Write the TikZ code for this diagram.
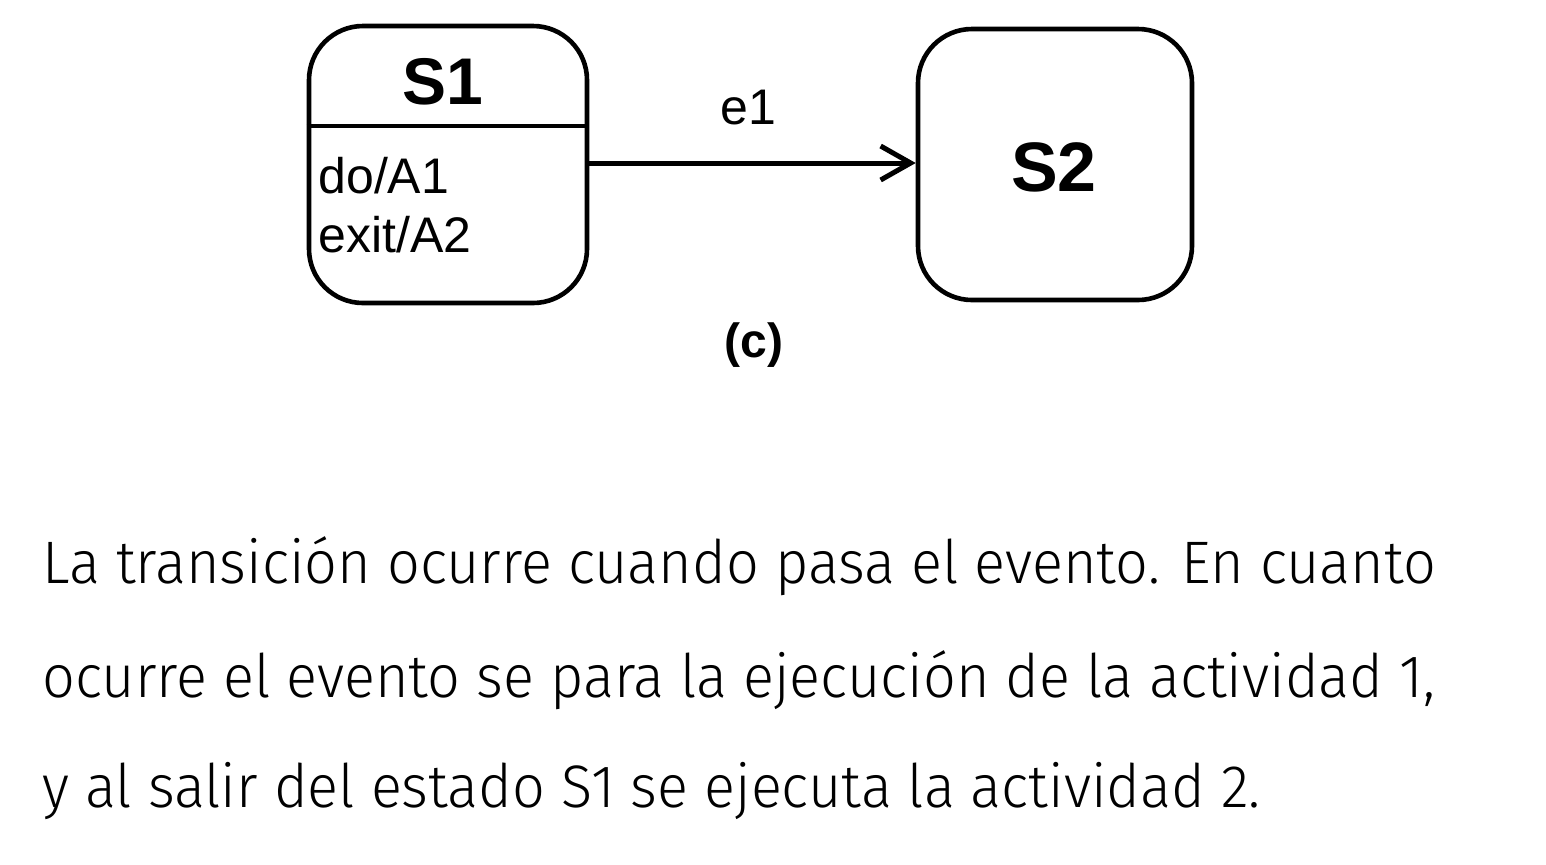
\documentclass[tikz,border=0pt]{standalone}
\usepackage{fontspec}
\setmainfont{Liberation Sans}
\newfontfamily\bodyfont[FakeStretch=0.96]{Fira Sans Light}
\usetikzlibrary{arrows.meta}

\tikzset{
  statebox/.style={draw, line width=2.3pt, rounded corners=27pt, inner sep=0pt},
  diagtext/.style={inner sep=0pt, font=\fontsize{25pt}{29pt}\selectfont},
  statename/.style={inner sep=0pt, font=\bfseries\fontsize{#1}{#1}\selectfont},
  bodyline/.style={inner sep=0pt, anchor=base west, font=\bodyfont\fontsize{30pt}{36pt}\selectfont},
  transition/.style={line width=2.5pt, -{Straight Barb[length=15pt, width=17pt, line width=2.5pt]}}
}

\begin{document}
\begin{tikzpicture}[x=0.5pt, y=-0.5pt]
  \useasboundingbox (0,0) rectangle (1546,864);

  % states
  \node[statebox, minimum width=139pt, minimum height=138.5pt] (s1) at (448,164.5) {};
  \node[statebox, minimum width=137pt, minimum height=135.5pt] (s2) at (1055,164.5) {};

  % compartment separator of S1
  \coordinate (sep) at (448,126);
  \draw[line width=2.3pt] (s1.west |- sep) -- (s1.east |- sep);

  % state contents
  \node[statename=33pt] (s1name) at (443,82) {S1};
  \node[diagtext, anchor=base west] (s1do) at (318,193) {do/A1};
  \node[diagtext, anchor=base west] (s1exit) at (318,252) {exit/A2};
  \node[statename=35pt] (s2name) at (1054,167) {S2};

  % transition
  \coordinate (tr) at (0,163);
  \draw[transition] (s1.east |- tr) -- (s2.west |- tr);
  \node[diagtext, anchor=base] (e1) at (748,124) {e1};

  % caption
  \node[diagtext, font=\bfseries\fontsize{24pt}{28pt}\selectfont, anchor=base] (cap) at (754,357) {(c)};

  % explanation
  \node[bodyline] (l1) at (42,583) {La transición ocurre cuando pasa el evento. En cuanto};
  \node[bodyline] (l2) at (42,697) {ocurre el evento se para la ejecución de la actividad 1,};
  \node[bodyline] (l3) at (42,807) {y al salir del estado S1 se ejecuta la actividad 2.};
\end{tikzpicture}
\end{document}
